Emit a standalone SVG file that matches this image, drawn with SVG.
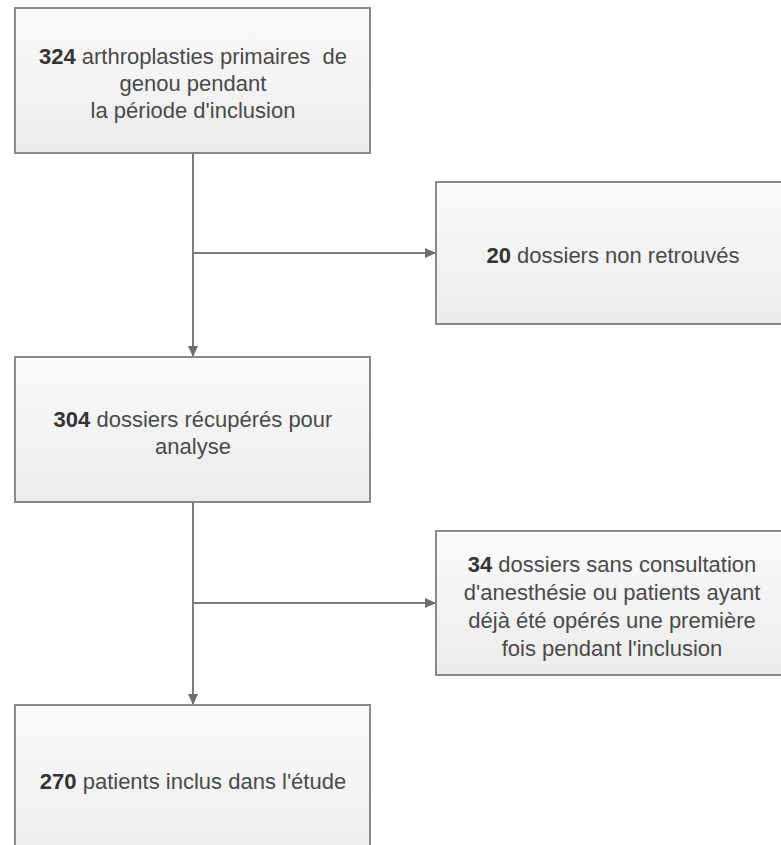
<svg xmlns="http://www.w3.org/2000/svg" width="781" height="845" viewBox="0 0 781 845">
  <defs>
    <linearGradient id="boxfill" x1="0" y1="0" x2="0" y2="1">
      <stop offset="0" stop-color="#fbfbfb"/>
      <stop offset="1" stop-color="#ececec"/>
    </linearGradient>
    <marker id="arrow" markerWidth="12" markerHeight="10" refX="11" refY="5" orient="auto" markerUnits="userSpaceOnUse">
      <path d="M0,0 L11,5 L0,10 Z" fill="#6e6e6e"/>
    </marker>
    <style>
      .box { fill: url(#boxfill); stroke: #8a8a8a; stroke-width: 2; }
      .shadow { fill: none; stroke: #d4d4d4; stroke-width: 2; }
      .t { font-family: "Liberation Sans", Arial, sans-serif; font-size: 22px; fill: #4a4a4a; text-anchor: middle; }
      .n { font-weight: bold; fill: #333333; }
      .conn { fill: none; stroke: #7a7a7a; stroke-width: 2; }
    </style>
  </defs>
  <rect width="781" height="845" fill="#ffffff"/>

  <g id="connectors">
    <line class="conn" x1="193" y1="154" x2="193" y2="357" marker-end="url(#arrow)"/>
    <line class="conn" x1="193" y1="253" x2="436" y2="253" marker-end="url(#arrow)"/>
    <line class="conn" x1="193" y1="503" x2="193" y2="705" marker-end="url(#arrow)"/>
    <line class="conn" x1="193" y1="603" x2="436" y2="603" marker-end="url(#arrow)"/>
  </g>

  <g id="node-324">
    <rect class="box" x="15" y="8" width="355" height="145"/>
    <text class="t" x="193" y="64"><tspan class="n">324</tspan> arthroplasties primaires&#160; de</text>
    <text class="t" x="193" y="91">genou pendant</text>
    <text class="t" x="193" y="118">la période d'inclusion</text>
  </g>

  <g id="node-20">
    <rect class="box" x="436" y="182" width="360" height="142"/>
    <text class="t" x="613" y="263"><tspan class="n">20</tspan> dossiers non retrouvés</text>
  </g>

  <g id="node-304">
    <rect class="box" x="15" y="357" width="355" height="145"/>
    <text class="t" x="193" y="427"><tspan class="n">304</tspan> dossiers récupérés pour</text>
    <text class="t" x="193" y="454">analyse</text>
  </g>

  <g id="node-34">
    <rect class="box" x="436" y="531" width="360" height="144"/>
    <text class="t" x="612" y="572"><tspan class="n">34</tspan> dossiers sans consultation</text>
    <text class="t" x="612" y="600">d'anesthésie ou patients ayant</text>
    <text class="t" x="612" y="628">déjà été opérés une première</text>
    <text class="t" x="612" y="656">fois pendant l'inclusion</text>
  </g>

  <g id="node-270">
    <rect class="box" x="15" y="705" width="355" height="160"/>
    <text class="t" x="193" y="789"><tspan class="n">270</tspan> patients inclus dans l'étude</text>
  </g>
</svg>
